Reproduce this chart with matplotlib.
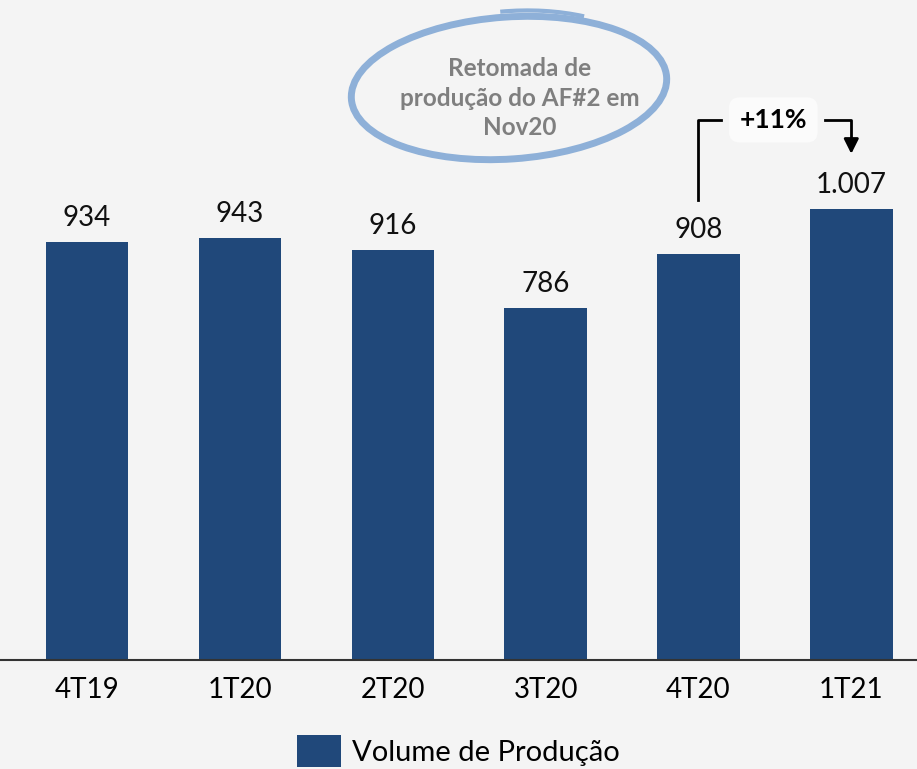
import numpy as np
import matplotlib
matplotlib.use("Agg")
import matplotlib.pyplot as plt
import matplotlib.patches as mpatches

plt.rcParams['font.family'] = ['Lato', 'DejaVu Sans']

quarters = ['4T19', '1T20', '2T20', '3T20', '4T20', '1T21']
volume = [934, 943, 916, 786, 908, 1007]
labels = [f"{v:,}".replace(',', '.') for v in volume]
growth_text = '+11%'
note_text = 'Retomada de\nprodução do AF#2 em\nNov20'

fig = plt.figure(figsize=(9.17, 7.69), dpi=100)
fig.patch.set_facecolor('#f4f4f4')
ax = fig.add_axes([0, 109/769, 1, 660/769])
ax.set_facecolor('none')

x = np.arange(len(quarters))
bars = ax.bar(x, volume, width=0.54, color='#20487a', label='Volume de Produção', zorder=2)

for xi, v, lab in zip(x, volume, labels):
    ax.annotate(lab, (xi, v), xytext=(0, 8), textcoords='offset points',
                ha='center', va='bottom', fontsize=20, color='#111111')

ax.set_xlim(-0.57, 5.43)
ax.set_ylim(0, 1475)
ax.set_xticks(x)
ax.set_xticklabels(quarters, fontsize=20)
ax.tick_params(axis='x', length=0, pad=12)
ax.set_yticks([])
for s in ['top', 'left', 'right']:
    ax.spines[s].set_visible(False)
ax.spines['bottom'].set_color('#333333')
ax.spines['bottom'].set_linewidth(1.5)

# bracket +11%
ax.plot([4, 4, 4.15], [1028, 1207, 1207], color='black', lw=2, zorder=3)
ax.plot([4.83, 5, 5], [1207, 1207, 1150], color='black', lw=2, zorder=3)
ax.annotate('', xy=(5, 1125), xytext=(5, 1160),
            arrowprops=dict(arrowstyle='-|>', color='black', lw=2, mutation_scale=22))
ax.text(4.49, 1207, growth_text, ha='center', va='center', fontsize=19, fontweight='bold',
        bbox=dict(boxstyle='round,pad=0.4', fc='#fbfbfb', ec='none'), zorder=4)

# hand-drawn style ellipse note
ell = mpatches.Ellipse((5.09, 7.69 - 0.88), 3.16, 1.42, angle=4, fill=False,
                       ec='#8eb0d8', lw=5, transform=fig.dpi_scale_trans)
fig.patches.append(ell)
arc = mpatches.Arc((5.12, 7.69 - 0.86), 3.0, 1.5, angle=4, theta1=40, theta2=95,
                   ec='#8eb0d8', lw=3, transform=fig.dpi_scale_trans)
fig.patches.append(arc)
fig.text(520/917, 1 - 98/769, note_text, ha='center', va='center', fontsize=17.5,
         fontweight='bold', color='#7f7f7f', linespacing=1.35)

fig.legend(handles=[bars], loc='center', bbox_to_anchor=(0.5, 18/769), frameon=False,
           fontsize=21, handlelength=1.5, handleheight=1.3, handletextpad=0.4)

fig.savefig('out.png', dpi=100, facecolor=fig.get_facecolor())
